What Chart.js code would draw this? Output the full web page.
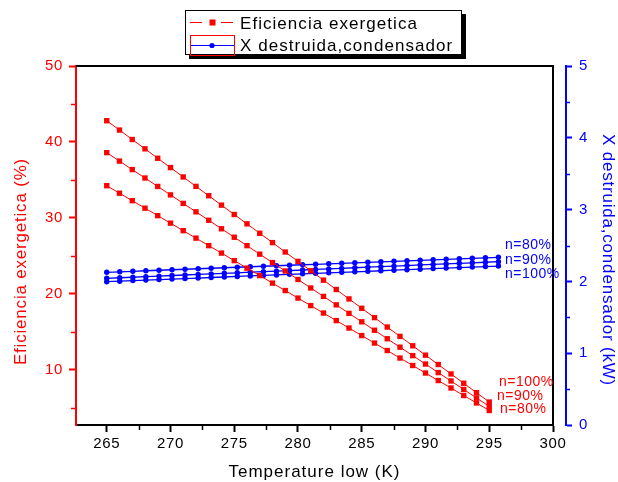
<!DOCTYPE html>
<html><head><meta charset="utf-8">
<script src="https://cdn.jsdelivr.net/npm/chart.js@4"></script>
<style>html,body{margin:0;padding:0;background:#fff}#wrap{width:618px;height:482px;position:relative}canvas{display:block}</style>
</head><body><div id="wrap"><canvas id="c" width="618" height="482"></canvas></div>
<script>
// ---- data ----
const tempRed = [265,266,267,268,269,270,271,272,273,274,275,276,277,278,279,280,281,282,283,284,285,286,287,288,289,290,291,292,293,294,295];
const efN100 = [42.80,41.57,40.33,39.10,37.86,36.63,35.40,34.16,32.93,31.69,30.46,29.23,27.99,26.76,25.52,24.29,23.06,21.82,20.59,19.35,18.12,16.89,15.65,14.42,13.18,11.95,10.72,9.48,8.25,7.01,5.78];
const efN90  = [38.60,37.49,36.37,35.26,34.15,33.04,31.92,30.81,29.70,28.58,27.47,26.36,25.24,24.13,23.02,21.91,20.79,19.68,18.57,17.45,16.34,15.23,14.11,13.00,11.89,10.78,9.66,8.55,7.44,6.32,5.21];
const efN80  = [34.25,33.26,32.28,31.29,30.31,29.32,28.33,27.35,26.36,25.38,24.39,23.40,22.42,21.43,20.45,19.46,18.47,17.49,16.50,15.52,14.53,13.54,12.56,11.57,10.59,9.60,8.61,7.63,6.64,5.66,4.67];
const tempBlue = [265,266.02,267.05,268.07,269.10,270.12,271.14,272.17,273.19,274.22,275.24,276.26,277.29,278.31,279.34,280.36,281.38,282.41,283.43,284.46,285.48,286.50,287.53,288.55,289.58,290.60,291.62,292.65,293.67,294.70,295.72];
const xdN80  = [2.127,2.134,2.141,2.148,2.155,2.162,2.169,2.176,2.183,2.190,2.197,2.204,2.211,2.218,2.225,2.232,2.238,2.245,2.252,2.259,2.266,2.273,2.280,2.287,2.294,2.301,2.308,2.315,2.322,2.329,2.336];
const xdN90  = [2.043,2.051,2.058,2.066,2.074,2.082,2.089,2.097,2.105,2.113,2.120,2.128,2.136,2.143,2.151,2.159,2.167,2.174,2.182,2.190,2.198,2.205,2.213,2.221,2.229,2.236,2.244,2.252,2.259,2.267,2.275];
const xdN100 = [1.996,2.003,2.011,2.018,2.025,2.032,2.040,2.047,2.054,2.061,2.069,2.076,2.083,2.090,2.098,2.105,2.112,2.119,2.127,2.134,2.141,2.148,2.156,2.163,2.170,2.178,2.185,2.192,2.199,2.207,2.214];
const xTicks = [265,270,275,280,285,290,295,300];
const xMinor = [267.5,272.5,277.5,282.5,287.5,292.5,297.5];
const yTicks = [10,20,30,40,50];
const yMinor = [5,15,25,35,45];
const y2Ticks = [0,1,2,3,4,5];
const y2Minor = [0.5,1.5,2.5,3.5,4.5];
const legendLabels = ['Eficiencia exergetica','X destruida,condensador'];
const redLabels = ['n=100%','n=90%','n=80%'];
const blueLabels = ['n=80%','n=90%','n=100%'];
const xTitle = 'Temperature low (K)';
const yTitle = 'Eficiencia exergetica (%)';
const y2Title = 'X destruida,condensador (kW)';

const RED = '#ff0000', BLUE = '#0000ff';
const FONT = '"Liberation Sans", Arial, sans-serif';
Chart.defaults.font.family = FONT;

const pts = (xs, ys) => xs.map((x, i) => ({x: x, y: ys[i]}));
function redSet(lbl, ys){ return {label:lbl, data:pts(tempRed, ys), yAxisID:'y', borderColor:RED, borderWidth:1, pointStyle:'rect', pointRadius:3.8, pointBackgroundColor:RED, pointBorderWidth:0, tension:0}; }
function blueSet(lbl, ys){ return {label:lbl, data:pts(tempBlue, ys), yAxisID:'y2', borderColor:BLUE, borderWidth:1.3, pointStyle:'circle', pointRadius:2.7, pointBackgroundColor:BLUE, pointBorderWidth:0, tension:0}; }

const decor = {
  id: 'decor',
  beforeUpdate(chart){ chart.ctx.letterSpacing = '0.6px'; },
  beforeDraw(chart){ chart.ctx.letterSpacing = '0.6px'; },
  afterDraw(chart){
    const ctx = chart.ctx, a = chart.chartArea, sx = chart.scales.x, sy = chart.scales.y, s2 = chart.scales.y2;
    ctx.save();
    const line = (x1,y1,x2,y2) => { ctx.beginPath(); ctx.moveTo(x1,y1); ctx.lineTo(x2,y2); ctx.stroke(); };
    // top frame
    ctx.strokeStyle = '#000'; ctx.lineWidth = 2;
    line(a.left, a.top, a.right + 1, a.top);
    // minor ticks
    ctx.lineWidth = 1.5;
    ctx.strokeStyle = '#000';
    xMinor.forEach(v => { const p = Math.round(sx.getPixelForValue(v)) + 0.5; line(p, a.bottom, p, a.bottom + 5); });
    ctx.strokeStyle = RED;
    yMinor.forEach(v => { const p = Math.round(sy.getPixelForValue(v)) + 0.5; line(a.left - 5, p, a.left, p); });
    ctx.strokeStyle = BLUE;
    y2Minor.forEach(v => { const p = Math.round(s2.getPixelForValue(v)) + 0.5; line(s2.left, p, s2.left + 4, p); });

    // axis titles
    ctx.font = '17px ' + FONT;
    ctx.textBaseline = 'alphabetic';
    ctx.textAlign = 'center';
    ctx.fillStyle = '#000';
    ctx.letterSpacing = '1px';
    ctx.fillText(xTitle, (a.left + a.right) / 2, 477);
    ctx.letterSpacing = '0.8px';
    ctx.save(); ctx.translate(26, 261.5); ctx.rotate(-Math.PI / 2); ctx.fillStyle = RED; ctx.fillText(yTitle, 0, 0); ctx.restore();
    ctx.save(); ctx.translate(603, 260); ctx.rotate(Math.PI / 2); ctx.fillStyle = BLUE; ctx.fillText(y2Title, 0, 0); ctx.restore();

    // legend box with shadow
    ctx.fillStyle = '#000'; ctx.fillRect(189, 14, 277, 45);
    ctx.fillStyle = '#fff'; ctx.fillRect(185, 10, 277, 45);
    ctx.strokeStyle = '#000'; ctx.lineWidth = 1; ctx.strokeRect(185.5, 10.5, 276, 44);
    // entry 1
    ctx.strokeStyle = RED; ctx.lineWidth = 1;
    line(190, 22.5, 202, 22.5); line(221, 22.5, 233, 22.5);
    ctx.fillStyle = RED; ctx.fillRect(209.5, 19.5, 6, 6);
    // entry 2
    ctx.strokeStyle = RED; ctx.strokeRect(190.5, 35.5, 44, 20);
    ctx.strokeStyle = BLUE; ctx.lineWidth = 1; line(191, 45.5, 234, 45.5);
    ctx.fillStyle = BLUE; ctx.beginPath(); ctx.arc(212, 45.5, 2.6, 0, Math.PI * 2); ctx.fill();
    ctx.textAlign = 'left'; ctx.fillStyle = '#000';
    ctx.letterSpacing = '1.05px';
    ctx.fillText(legendLabels[0], 240, 29);
    ctx.fillText(legendLabels[1], 240, 51);

    // series annotations
    ctx.letterSpacing = '0.5px';
    ctx.font = '14px ' + FONT;
    ctx.textBaseline = 'middle';
    ctx.fillStyle = RED;
    ctx.fillText(redLabels[0], 499, 382);
    ctx.fillText(redLabels[1], 497, 396.5);
    ctx.fillText(redLabels[2], 500, 409.5);
    ctx.fillStyle = BLUE;
    ctx.fillText(blueLabels[0], 505, 245.5);
    ctx.fillText(blueLabels[1], 505, 260);
    ctx.fillText(blueLabels[2], 505, 274);
    ctx.restore();
  }
};

const tickFont = {family: FONT, size: 15};
new Chart(document.getElementById('c'), {
  type: 'line',
  data: { datasets: [
    redSet(redLabels[0], efN100), redSet(redLabels[1], efN90), redSet(redLabels[2], efN80),
    blueSet(blueLabels[0], xdN80), blueSet(blueLabels[1], xdN90), blueSet(blueLabels[2], xdN100)
  ]},
  options: {
    responsive: false, animation: false, devicePixelRatio: 1,
    layout: { padding: { top: 66, left: 0, right: 0, bottom: 0 } },
    plugins: { legend: { display: false }, tooltip: { enabled: false } },
    scales: {
      x: {
        type: 'linear', position: 'bottom', min: 262.59, max: 300,
        afterBuildTicks: s => { s.ticks = xTicks.map(v => ({value: v})); },
        afterFit: s => { s.height = 57; },
        grid: { drawOnChartArea: false, drawTicks: true, tickLength: 7, tickWidth: 2, tickColor: '#000' },
        border: { color: '#000', width: 2 },
        ticks: { color: '#000', font: tickFont, padding: 3, maxRotation: 0, autoSkip: false }
      },
      y: {
        type: 'linear', position: 'left', min: 2.76, max: 50,
        afterBuildTicks: s => { s.ticks = yTicks.map(v => ({value: v})); },
        afterFit: s => { s.width = 76; },
        grid: { drawOnChartArea: false, drawTicks: true, tickLength: 7, tickWidth: 2, tickColor: RED },
        border: { color: RED, width: 2 },
        ticks: { color: RED, font: tickFont, padding: 6 }
      },
      yFrame: {
        type: 'linear', position: 'right', weight: 0, display: true,
        afterFit: s => { s.width = 13; },
        grid: { display: false, drawOnChartArea: false },
        border: { color: '#000', width: 2 },
        ticks: { display: false }
      },
      y2: {
        type: 'linear', position: 'right', weight: 1, min: 0, max: 5,
        afterBuildTicks: s => { s.ticks = y2Ticks.map(v => ({value: v})); },
        afterFit: s => { s.width = 52; },
        grid: { drawOnChartArea: false, drawTicks: true, tickLength: 6, tickWidth: 2, tickColor: BLUE },
        border: { color: BLUE, width: 2 },
        ticks: { color: BLUE, font: tickFont, padding: 7 }
      }
    }
  },
  plugins: [decor]
});
</script>
</body></html>
